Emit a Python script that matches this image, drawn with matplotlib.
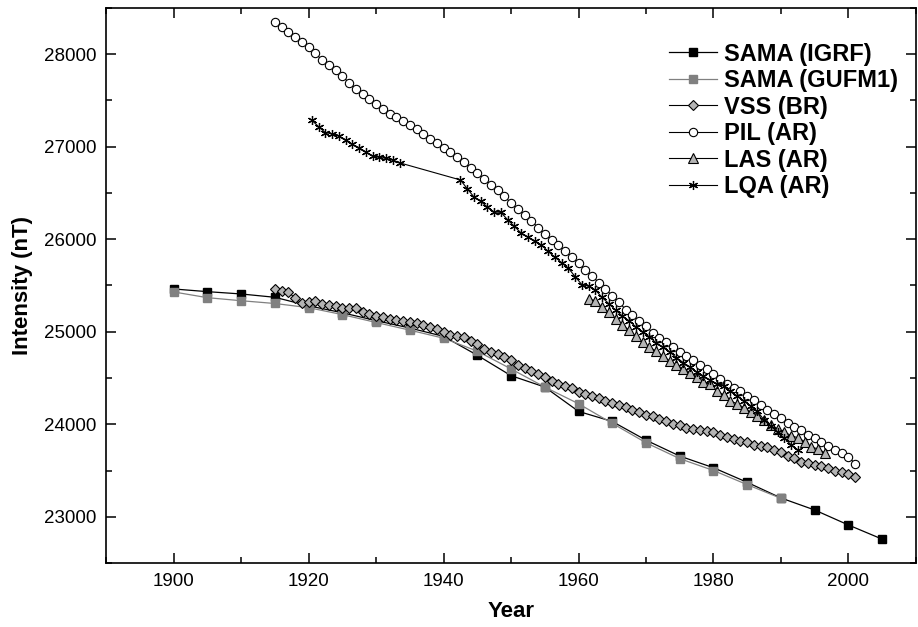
import matplotlib
matplotlib.use("Agg")
import matplotlib.pyplot as plt
from matplotlib.ticker import MultipleLocator

plt.rcParams["font.family"] = ["Liberation Sans", "DejaVu Sans"]

# SAMA intensity from field models, every 5 years
sama_years = [1900, 1905, 1910, 1915, 1920, 1925, 1930, 1935, 1940, 1945, 1950,
              1955, 1960, 1965, 1970, 1975, 1980, 1985, 1990, 1995, 2000, 2005]
sama_igrf = [25462, 25433, 25408, 25372, 25280, 25205, 25120, 25040, 24950, 24746, 24525,
             24402, 24139, 24030, 23828, 23656, 23530, 23372, 23203, 23073, 22911, 22758]
gufm_years = sama_years[:19]
sama_gufm = [25430, 25368, 25335, 25305, 25260, 25185, 25100, 25017, 24930, 24790, 24598,
             24402, 24222, 24010, 23800, 23628, 23500, 23347, 23199]

# yearly series 1915-2001
obs_years = list(range(1915, 2002))
vss = [25459, 25444, 25433, 25361, 25310, 25324, 25335, 25299, 25289, 25278,
       25260, 25260, 25253, 25216, 25188, 25169, 25155, 25137, 25126, 25115,
       25104, 25090, 25072, 25050, 25032, 24999, 24963, 24956, 24941, 24901,
       24866, 24811, 24786, 24757, 24728, 24689, 24645, 24609, 24576, 24544,
       24508, 24472, 24439, 24418, 24388, 24352, 24331, 24305, 24280, 24255,
       24233, 24212, 24186, 24157, 24128, 24103, 24085, 24060, 24030, 24001,
       23987, 23962, 23944, 23933, 23925, 23915, 23886, 23861, 23843, 23824,
       23806, 23781, 23763, 23752, 23727, 23698, 23662, 23633, 23597, 23579,
       23561, 23546, 23528, 23499, 23481, 23463, 23434]
pil = [28350, 28296, 28242, 28181, 28134, 28073, 28008, 27938, 27881, 27826,
       27758, 27693, 27628, 27566, 27512, 27458, 27411, 27357, 27320, 27277,
       27230, 27187, 27132, 27086, 27042, 26990, 26940, 26885, 26830, 26770,
       26715, 26655, 26590, 26530, 26465, 26390, 26325, 26260, 26200, 26125,
       26055, 25995, 25940, 25870, 25810, 25740, 25670, 25603, 25530, 25462,
       25386, 25316, 25240, 25180, 25118, 25057, 24990, 24932, 24885, 24833,
       24782, 24735, 24692, 24643, 24598, 24548, 24488, 24440, 24393, 24357,
       24306, 24262, 24210, 24157, 24110, 24063, 24012, 23969, 23933, 23889,
       23853, 23806, 23770, 23723, 23687, 23643, 23575]

las_years = [y + 0.5 for y in range(1961, 1997)]
las = [25354, 25335, 25264, 25209, 25137, 25072, 25017, 24952, 24884, 24830,
       24793, 24735, 24685, 24638, 24602, 24558, 24511, 24457, 24432, 24359,
       24318, 24251, 24222, 24179, 24131, 24085, 24041, 23995, 23951, 23915,
       23878, 23853, 23813, 23752, 23734, 23691]

lqa_years = ([y + 0.5 for y in range(1920, 1934)] +
             [y + 0.5 for y in range(1942, 1993)])
lqa = [27284, 27216, 27151, 27140, 27114, 27067, 27024, 26988, 26940, 26897,
       26886, 26872, 26854, 26825,
       26640, 26547, 26457, 26409, 26348, 26294, 26290, 26210, 26138, 26066,
       26023, 25975, 25939, 25867, 25806, 25747, 25687, 25595, 25509, 25492,
       25451, 25370, 25303, 25234, 25169, 25118, 25053, 24999, 24945, 24880,
       24830, 24782, 24721, 24667, 24619, 24565, 24522, 24475, 24439, 24415,
       24357, 24305, 24255, 24200, 24140, 24045, 23978, 23915, 23848, 23779,
       23723]

fig = plt.figure(figsize=(9.18, 6.27), dpi=100)
ax = fig.add_axes([0.1155, 0.102, 0.8823, 0.8855])

ax.plot(sama_years, sama_igrf, color="black", lw=0.9, marker="s", ms=5.5,
        mfc="black", mec="black", label="SAMA (IGRF)")
ax.plot(gufm_years, sama_gufm, color="#808080", lw=0.9, marker="s", ms=5.5,
        mfc="#808080", mec="#808080", label="SAMA (GUFM1)")
ax.plot(obs_years, vss, color="black", lw=0.8, marker="D", ms=5.4,
        mfc="#b4b4b4", mec="black", mew=0.8, label="VSS (BR)")
ax.plot(obs_years, pil, color="black", lw=0.8, marker="o", ms=6,
        mfc="white", mec="black", mew=0.8, label="PIL (AR)")
ax.plot(las_years, las, color="black", lw=0.8, marker="^", ms=7,
        mfc="#b4b4b4", mec="black", mew=0.8, label="LAS (AR)")
ax.plot(lqa_years, lqa, color="black", lw=0.8, marker=(6, 2, 0), ms=6.5,
        mec="black", mew=0.9, label="LQA (AR)")

ax.set_xlim(1890, 2010)
ax.set_ylim(22500, 28500)
ax.xaxis.set_major_locator(MultipleLocator(20))
ax.xaxis.set_minor_locator(MultipleLocator(10))
ax.yaxis.set_major_locator(MultipleLocator(1000))
ax.yaxis.set_minor_locator(MultipleLocator(500))
ax.tick_params(which="both", direction="in", top=True, right=True, width=1.1,
               labelsize=13.5)
ax.tick_params(which="major", length=7, pad=7)
ax.tick_params(which="minor", length=4)
for sp in ax.spines.values():
    sp.set_linewidth(1.2)

ax.set_xlabel("Year", fontsize=16, fontweight="bold", labelpad=8)
ax.set_ylabel("Intensity (nT)", fontsize=16, fontweight="bold", labelpad=8)

leg = ax.legend(loc="upper right", bbox_to_anchor=(0.995, 0.963), frameon=False,
                prop={"size": 17, "weight": "bold"}, labelspacing=0.15,
                handlelength=2.0, handletextpad=0.3, borderaxespad=0.2)

fig.savefig("out.png", dpi=100)
